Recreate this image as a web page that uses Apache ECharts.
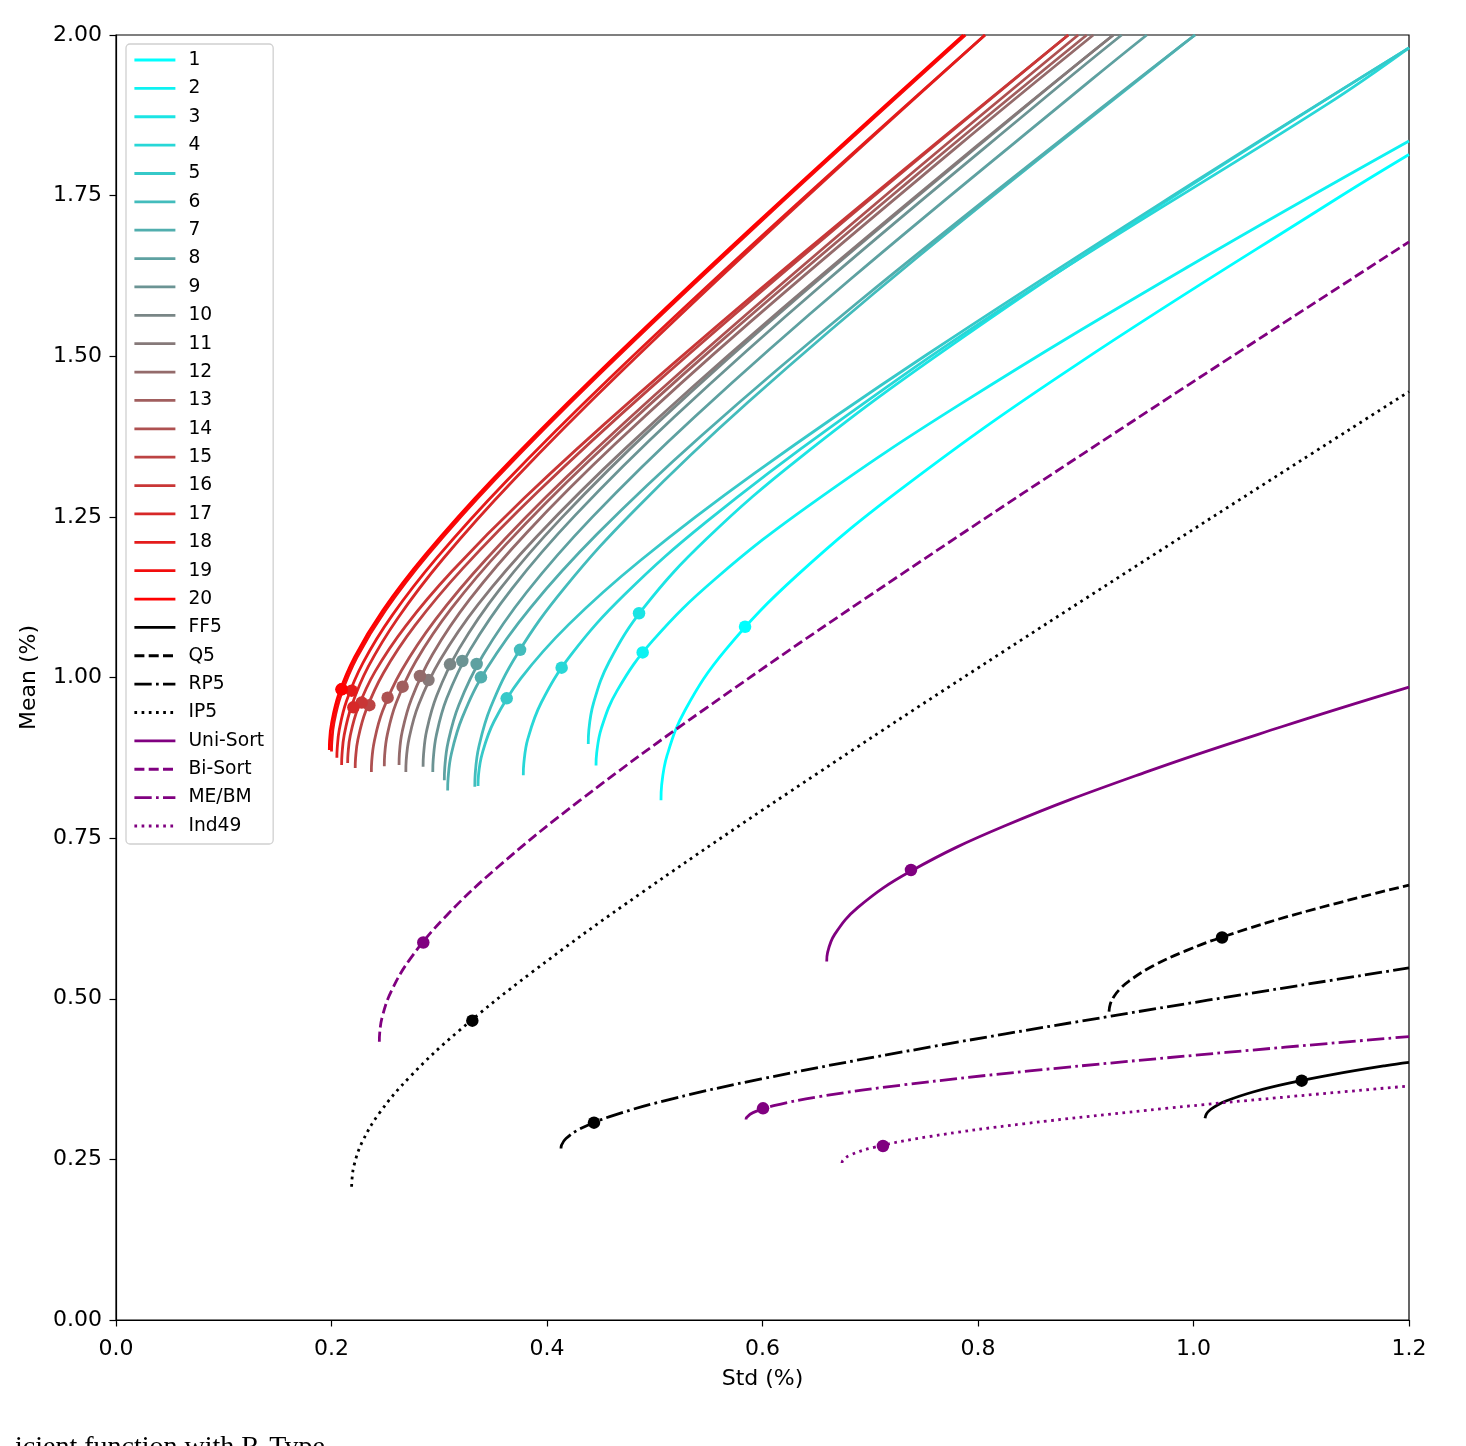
<!DOCTYPE html>
<html>
<head>
<meta charset="utf-8">
<script src="https://cdn.jsdelivr.net/npm/echarts@6/dist/echarts.min.js"></script>
<style>
    html, body { margin: 0; padding: 0; background: #fff; }
    #chart { width: 1466px; height: 1446px; }
</style>
</head>
<body>
<div id="chart"></div>
<script>
// frontier curves of the 20 portfolios, points read as [std, mean]
const portNames = ['1', '2', '3', '4', '5', '6', '7', '8', '9', '10',
    '11', '12', '13', '14', '15', '16', '17', '18', '19', '20'];
const portCurves = [
    [[0.5058, 0.809], [0.5064, 0.8324], [0.5115, 0.8791], [0.5281, 0.9491], [0.5655, 1.0426], [0.6323, 1.1593], [0.7334, 1.2995], [0.8909, 1.4863], [1.131, 1.7432], [1.2, 1.814]],
    [[0.4455, 0.863], [0.4461, 0.8824], [0.4505, 0.9213], [0.4651, 0.9796], [0.4981, 1.0574], [0.5569, 1.1545], [0.646, 1.2711], [0.7847, 1.4266], [0.9962, 1.6404], [1.2, 1.835]],
    [[0.4383, 0.8965], [0.4388, 0.9178], [0.4432, 0.9603], [0.4576, 1.0241], [0.49, 1.1091], [0.5479, 1.2154], [0.6355, 1.343], [0.772, 1.513], [0.9801, 1.7469], [1.2, 1.98]],
    [[0.378, 0.848], [0.3785, 0.8668], [0.3822, 0.9044], [0.3946, 0.9607], [0.4226, 1.0359], [0.4725, 1.1298], [0.5481, 1.2425], [0.6658, 1.3928], [0.8452, 1.5994], [1.1239, 1.892], [1.2, 1.98]],
    [[0.336, 0.831], [0.3364, 0.8478], [0.3398, 0.8813], [0.3508, 0.9315], [0.3757, 0.9986], [0.42, 1.0823], [0.4872, 1.1829], [0.5918, 1.3169], [0.7513, 1.5012], [0.999, 1.7693], [1.2, 1.98]],
    [[0.333, 0.83], [0.3334, 0.8506], [0.3367, 0.8919], [0.3477, 0.9538], [0.3723, 1.0363], [0.4163, 1.1395], [0.4829, 1.2632], [0.5865, 1.4283], [0.7446, 1.6552], [0.9901, 1.9853], [1.0014, 2.0]],
    [[0.3078, 0.824], [0.3082, 0.843], [0.3112, 0.881], [0.3214, 0.9379], [0.3441, 1.0139], [0.3848, 1.1089], [0.4463, 1.2228], [0.5422, 1.3747], [0.6883, 1.5836], [0.9152, 1.8874], [1.0014, 2.0]],
    [[0.3047, 0.84], [0.3051, 0.8595], [0.3081, 0.8985], [0.3181, 0.9569], [0.3407, 1.0349], [0.3809, 1.1323], [0.4418, 1.2492], [0.5367, 1.4051], [0.6813, 1.6194], [0.9059, 1.9312], [0.9566, 2.0]],
    [[0.294, 0.853], [0.2944, 0.872], [0.2973, 0.9101], [0.3069, 0.9672], [0.3287, 1.0434], [0.3675, 1.1385], [0.4263, 1.2527], [0.5178, 1.405], [0.6574, 1.6144], [0.8741, 1.919], [0.9333, 2.0]],
    [[0.285, 0.861], [0.2854, 0.8794], [0.2882, 0.9163], [0.2976, 0.9716], [0.3186, 1.0453], [0.3563, 1.1375], [0.4133, 1.248], [0.502, 1.3955], [0.6373, 1.5982], [0.8474, 1.8931], [0.9256, 2.0]],
    [[0.269, 0.853], [0.2693, 0.8704], [0.272, 0.9053], [0.2808, 0.9575], [0.3008, 1.0272], [0.3363, 1.1143], [0.3901, 1.2188], [0.4738, 1.3582], [0.6015, 1.5498], [0.7998, 1.8285], [0.9256, 2.0]],
    [[0.2627, 0.864], [0.263, 0.8812], [0.2656, 0.9156], [0.2743, 0.9671], [0.2937, 1.0359], [0.3284, 1.1219], [0.3809, 1.225], [0.4627, 1.3625], [0.5874, 1.5516], [0.7811, 1.8266], [0.907, 2.0]],
    [[0.249, 0.862], [0.2493, 0.8784], [0.2518, 0.9111], [0.26, 0.9602], [0.2784, 1.0257], [0.3113, 1.1075], [0.3611, 1.2057], [0.4386, 1.3366], [0.5568, 1.5166], [0.7403, 1.7784], [0.9009, 2.0]],
    [[0.237, 0.853], [0.2373, 0.8688], [0.2397, 0.9004], [0.2474, 0.9477], [0.265, 1.0109], [0.2963, 1.0898], [0.3437, 1.1845], [0.4174, 1.3108], [0.53, 1.4844], [0.7047, 1.737], [0.893, 2.0]],
    [[0.222, 0.859], [0.2223, 0.8738], [0.2245, 0.9034], [0.2318, 0.9478], [0.2482, 1.0071], [0.2775, 1.0811], [0.3219, 1.1699], [0.391, 1.2883], [0.4964, 1.4512], [0.66, 1.688], [0.8838, 2.0]],
    [[0.215, 0.867], [0.2153, 0.8812], [0.2174, 0.9096], [0.2245, 0.9522], [0.2404, 1.0091], [0.2688, 1.0801], [0.3118, 1.1653], [0.3787, 1.279], [0.4808, 1.4352], [0.6392, 1.6625], [0.8838, 2.0]],
    [[0.2094, 0.864], [0.2097, 0.8793], [0.2117, 0.9098], [0.2186, 0.9557], [0.2341, 1.0168], [0.2618, 1.0931], [0.3036, 1.1848], [0.3688, 1.307], [0.4682, 1.475], [0.6226, 1.7194], [0.8065, 2.0]],
    [[0.205, 0.875], [0.2053, 0.8898], [0.2073, 0.9193], [0.214, 0.9637], [0.2292, 1.0228], [0.2563, 1.0967], [0.2973, 1.1854], [0.3611, 1.3036], [0.4584, 1.4662], [0.6095, 1.7027], [0.8065, 2.0]],
    [[0.2, 0.885], [0.2003, 0.8996], [0.2022, 0.9289], [0.2088, 0.9727], [0.2236, 1.0312], [0.25, 1.1043], [0.29, 1.192], [0.3523, 1.309], [0.4472, 1.4698], [0.5946, 1.7037], [0.7884, 2.0]],
    [[0.198, 0.887], [0.1982, 0.9015], [0.2002, 0.9304], [0.2067, 0.9739], [0.2214, 1.0318], [0.2475, 1.1042], [0.2871, 1.1911], [0.3488, 1.307], [0.4427, 1.4662], [0.5887, 1.6979], [0.7864, 2.0]]
];
// marked point on each portfolio frontier
const portDots = [
    [0.5838, 1.079], [0.4888, 1.039], [0.4854, 1.100], [0.4136, 1.0153], [0.3626, 0.9676],
    [0.375, 1.043], [0.3387, 1.0003], [0.3347, 1.021], [0.3214, 1.0257], [0.310, 1.0205],
    [0.290, 0.996], [0.2821, 1.0023], [0.266, 0.9857], [0.2521, 0.9686], [0.2351, 0.957],
    [0.228, 0.961], [0.2203, 0.9536], [0.2187, 0.9795], [0.2094, 0.9816], [0.2094, 0.9816]
];

// benchmark factor sets
const benchNames = ['FF5', 'Q5', 'RP5', 'IP5', 'Uni-Sort', 'Bi-Sort', 'ME/BM', 'Ind49'];
const benchCurves = [
    [[1.0107, 0.3139], [1.012, 0.3207], [1.0158, 0.3276], [1.022, 0.3344], [1.0307, 0.3413], [1.0552, 0.3549], [1.0886, 0.3686], [1.13, 0.3823], [1.1787, 0.396], [1.2, 0.401]],
    [[0.9216, 0.48], [0.9228, 0.4918], [0.9262, 0.5036], [0.9319, 0.5154], [0.9398, 0.5272], [0.9622, 0.5509], [0.9926, 0.5745], [1.0304, 0.5981], [1.0992, 0.6335], [1.2, 0.677]],
    [[0.413, 0.267], [0.4135, 0.2722], [0.4176, 0.2825], [0.4312, 0.2979], [0.4618, 0.3185], [0.5163, 0.3443], [0.5989, 0.3752], [0.7274, 0.4164], [0.9235, 0.473], [1.2, 0.548]],
    [[0.2187, 0.2075], [0.219, 0.219], [0.2211, 0.2419], [0.2283, 0.2763], [0.2445, 0.3222], [0.2734, 0.3796], [0.3171, 0.4484], [0.3852, 0.5401], [0.489, 0.6663], [0.6502, 0.8498], [0.8594, 1.0792], [1.2, 1.445]],
    [[0.6596, 0.558], [0.6604, 0.572], [0.667, 0.6002], [0.6886, 0.6423], [0.7375, 0.6985], [0.8245, 0.7688], [0.9564, 0.8531], [1.0818, 0.9233], [1.2, 0.985]],
    [[0.2444, 0.433], [0.2447, 0.446], [0.2471, 0.4719], [0.2552, 0.5107], [0.2732, 0.5625], [0.3055, 0.6273], [0.3544, 0.705], [0.4305, 0.8086], [0.5465, 0.951], [0.7267, 1.1582], [0.9603, 1.4172], [1.2, 1.678]],
    [[0.5847, 0.312], [0.5854, 0.3156], [0.5912, 0.3228], [0.6104, 0.3336], [0.6537, 0.348], [0.7309, 0.366], [0.8478, 0.3876], [1.0299, 0.4164], [1.2, 0.4411]],
    [[0.6738, 0.2444], [0.6746, 0.2485], [0.6813, 0.2566], [0.7035, 0.2688], [0.7533, 0.2851], [0.8423, 0.3054], [0.977, 0.3298], [1.0786, 0.346], [1.2, 0.3642]]
];
const benchDots = [
    [1.1004, 0.3725], [1.0265, 0.5953], [0.4436, 0.3071], [0.3307, 0.4659],
    [0.7378, 0.7004], [0.2852, 0.5875], [0.6005, 0.3295], [0.7118, 0.2708]
];
const benchColors = ['#000', '#000', '#000', '#000', '#800080', '#800080', '#800080', '#800080'];
const benchDash = ['solid', 'dashed', 'dashdot', 'dotted', 'solid', 'dashed', 'dashdot', 'dotted'];

const LW = 2.8;
const dashMap = {
    solid: 'solid',
    dashed: [10, 4.3],
    dashdot: [17.3, 4.3, 2.7, 4.3],
    dotted: [2.7, 4.5]
};

// cyan (1) -> red (20)
function portColor(i) {
    let t = i / 19;
    let r = Math.round(255 * t);
    let g = Math.round(255 * (1 - t));
    return 'rgb(' + r + ',' + g + ',' + g + ')';
}

function lineSeries(name, data, color, dash) {
    return {
        name: name,
        type: 'line',
        data: data,
        smooth: 0.4,
        symbol: 'none',
        lineStyle: {color: color, width: LW, type: dashMap[dash], cap: 'butt'},
        itemStyle: {color: color},
        z: 2,
        animation: false
    };
}

function dotSeries(point, color) {
    return {
        type: 'scatter',
        data: [point],
        symbol: 'circle',
        symbolSize: 12.5,
        itemStyle: {color: color, opacity: 1},
        z: 3,
        silent: true,
        animation: false
    };
}

let series = [];
portCurves.forEach(function (curve, i) {
    series.push(lineSeries(portNames[i], curve, portColor(i), 'solid'));
});
benchCurves.forEach(function (curve, i) {
    series.push(lineSeries(benchNames[i], curve, benchColors[i], benchDash[i]));
});
portDots.forEach(function (p, i) {
    series.push(dotSeries(p, portColor(i)));
});
benchDots.forEach(function (p, i) {
    series.push(dotSeries(p, benchColors[i]));
});

const tickFont = {color: '#000', fontSize: 22, fontFamily: 'DejaVu Sans'};

let option = {
    backgroundColor: '#fff',
    animation: false,
    grid: {
        left: 116, top: 35, right: 57, bottom: 126,
        show: true, borderColor: '#000', borderWidth: 1.2, backgroundColor: 'transparent'
    },
    legend: {
        data: portNames.concat(benchNames),
        orient: 'vertical',
        left: 126,
        top: 44,
        padding: [6.5, 9, 8.5, 7],
        itemWidth: 41,
        itemHeight: 14,
        itemGap: 9.37,
        backgroundColor: '#fff',
        borderColor: '#d0d0d0',
        borderWidth: 1.3,
        borderRadius: 4,
        itemStyle: {opacity: 0},
        lineStyle: {width: LW},
        textStyle: {color: '#000', fontSize: 18.7, fontFamily: 'DejaVu Sans', padding: [0, 0, 0, 8]}
    },
    xAxis: {
        type: 'value',
        min: 0, max: 1.2, interval: 0.2,
        name: 'Std (%)',
        nameLocation: 'middle',
        nameGap: 48,
        nameTextStyle: tickFont,
        axisLine: {show: true, onZero: false, lineStyle: {color: '#000', width: 1.2}},
        axisTick: {show: true, length: 6.5, lineStyle: {color: '#000', width: 1.2}},
        axisLabel: Object.assign({margin: 18, formatter: function (v) { return v.toFixed(1); }}, tickFont),
        splitLine: {show: false}
    },
    yAxis: {
        type: 'value',
        min: 0, max: 2, interval: 0.25,
        name: 'Mean (%)',
        nameLocation: 'middle',
        nameGap: 76,
        nameTextStyle: tickFont,
        axisLine: {show: true, onZero: false, lineStyle: {color: '#000', width: 1.2}},
        axisTick: {show: true, length: 6.5, lineStyle: {color: '#000', width: 1.2}},
        axisLabel: Object.assign({margin: 14, formatter: function (v) { return v.toFixed(2); }}, tickFont),
        splitLine: {show: false}
    },
    graphic: [{
        type: 'text',
        left: 15,
        top: 1434,
        style: {text: 'icient function with R-Type', font: '28px "Liberation Serif"', fill: '#000'}
    }],
    series: series
};

let myChart = echarts.init(document.getElementById('chart'), null, {renderer: 'canvas'});
myChart.setOption(option);
</script>
</body>
</html>
